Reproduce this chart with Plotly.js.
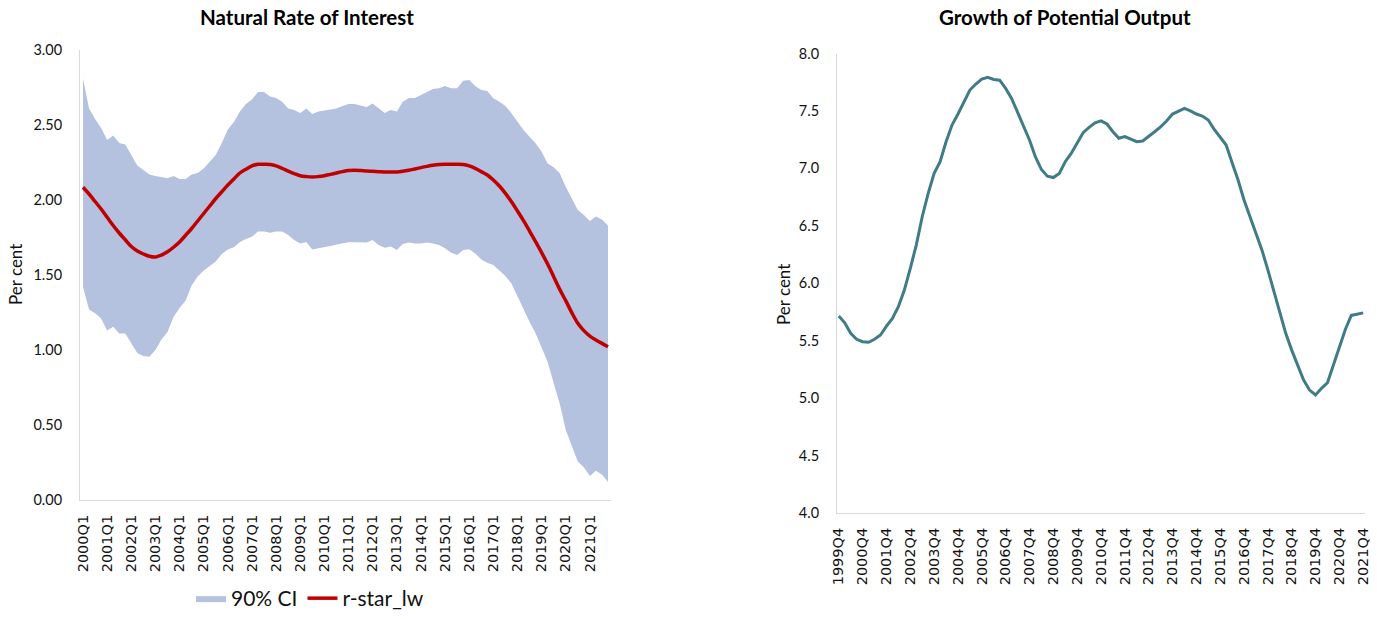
<!DOCTYPE html>
<html>
<head>
<meta charset="utf-8">
<script src="https://cdn.plot.ly/plotly-3.0.1.min.js"></script>
<style>
  html, body { margin: 0; padding: 0; background: #ffffff; }
  #chart { width: 1377px; height: 619px; }
</style>
</head>
<body>
<div id="chart"></div>
<script>
// Quarter labels such as "2000Q1"
function quarterLabels(startYear, startQuarter, count) {
  const out = [];
  let y = startYear, q = startQuarter;
  for (let i = 0; i < count; i++) {
    out.push(y + 'Q' + q);
    q += 1;
    if (q > 4) { q = 1; y += 1; }
  }
  return out;
}

// Natural rate of interest, 2000Q1 - 2021Q4 (per cent)
const rstarQuarters = quarterLabels(2000, 1, 88);
const rstarLw = [
  2.085, 2.04, 1.99, 1.94, 1.885, 1.83, 1.78, 1.735, 1.69, 1.66,
  1.64, 1.625, 1.62, 1.633, 1.655, 1.685, 1.72, 1.765, 1.81, 1.86,
  1.91, 1.96, 2.01, 2.055, 2.10, 2.14, 2.18, 2.205, 2.227, 2.238,
  2.238, 2.236, 2.227, 2.211, 2.193, 2.176, 2.162, 2.156, 2.153, 2.156,
  2.162, 2.171, 2.18, 2.189, 2.196, 2.198, 2.196, 2.193, 2.191, 2.189,
  2.187, 2.187, 2.187, 2.191, 2.198, 2.207, 2.216, 2.224, 2.231, 2.236,
  2.238, 2.238, 2.238, 2.236, 2.227, 2.211, 2.189, 2.167, 2.133, 2.093,
  2.044, 1.989, 1.927, 1.862, 1.793, 1.722, 1.649, 1.573, 1.489, 1.404,
  1.329, 1.249, 1.178, 1.129, 1.093, 1.067, 1.044, 1.022
];
const ciUpper = [
  2.81, 2.61, 2.54, 2.48, 2.40, 2.43, 2.38, 2.37, 2.30, 2.23,
  2.20, 2.17, 2.16, 2.155, 2.145, 2.16, 2.14, 2.14, 2.17, 2.18,
  2.21, 2.255, 2.30, 2.38, 2.47, 2.52, 2.59, 2.64, 2.67, 2.72,
  2.72, 2.69, 2.68, 2.655, 2.61, 2.60, 2.58, 2.61, 2.573, 2.59,
  2.595, 2.60, 2.61, 2.627, 2.64, 2.64, 2.631, 2.62, 2.644, 2.61,
  2.58, 2.60, 2.59, 2.655, 2.68, 2.68, 2.70, 2.72, 2.74, 2.745,
  2.76, 2.745, 2.745, 2.795, 2.80, 2.76, 2.733, 2.727, 2.678, 2.655,
  2.627, 2.578, 2.522, 2.467, 2.422, 2.378, 2.322, 2.244, 2.218, 2.178,
  2.089, 2.01, 1.933, 1.90, 1.86, 1.89, 1.87, 1.83
];
const ciLower = [
  1.42, 1.27, 1.245, 1.21, 1.13, 1.155, 1.11, 1.11, 1.045, 0.98,
  0.96, 0.955, 1.00, 1.07, 1.12, 1.22, 1.28, 1.33, 1.43, 1.49,
  1.53, 1.56, 1.59, 1.64, 1.67, 1.685, 1.72, 1.74, 1.755, 1.79,
  1.79, 1.782, 1.79, 1.79, 1.767, 1.733, 1.71, 1.72, 1.67, 1.678,
  1.684, 1.693, 1.704, 1.71, 1.718, 1.718, 1.716, 1.716, 1.733, 1.70,
  1.682, 1.69, 1.667, 1.707, 1.716, 1.71, 1.71, 1.716, 1.71, 1.70,
  1.678, 1.649, 1.633, 1.667, 1.671, 1.644, 1.604, 1.582, 1.567, 1.533,
  1.493, 1.444, 1.356, 1.267, 1.189, 1.111, 1.022, 0.922, 0.778, 0.644,
  0.467, 0.356, 0.256, 0.218, 0.16, 0.195, 0.17, 0.12
];
const rstarTickVals = [0, 0.5, 1, 1.5, 2, 2.5, 3];

// Growth of potential output, 1999Q4 - 2021Q4 (per cent)
const potentialQuarters = quarterLabels(1999, 4, 89);
const potentialGrowth = [
  5.714, 5.656, 5.564, 5.512, 5.491, 5.486, 5.512, 5.549, 5.627, 5.694,
  5.796, 5.941, 6.13, 6.332, 6.579, 6.782, 6.956, 7.058, 7.232, 7.377,
  7.473, 7.58, 7.682, 7.734, 7.777, 7.792, 7.774, 7.768, 7.696, 7.609,
  7.484, 7.368, 7.247, 7.10, 6.99, 6.932, 6.92, 6.956, 7.058, 7.13,
  7.218, 7.31, 7.357, 7.397, 7.414, 7.386, 7.319, 7.262, 7.276, 7.253,
  7.232, 7.238, 7.276, 7.319, 7.362, 7.412, 7.473, 7.499, 7.522, 7.501,
  7.473, 7.456, 7.421, 7.339, 7.27, 7.203, 7.049, 6.899, 6.725, 6.579,
  6.449, 6.29, 6.117, 5.935, 5.753, 5.564, 5.418, 5.288, 5.157, 5.07,
  5.027, 5.085, 5.134, 5.288, 5.447, 5.598, 5.72, 5.731, 5.742
];
const potentialTickVals = [4, 4.5, 5, 5.5, 6, 6.5, 7, 7.5, 8];

// Yearly category ticks
const rstarTickLabels = rstarQuarters.filter((q, i) => i % 4 === 0);
const potentialTickLabels = potentialQuarters.filter((q, i) => i % 4 === 0);

const FONT = 'Lato, "Open Sans", sans-serif';
const TICK_FONT = '"DejaVu Sans", Lato, sans-serif';
const W = 1377, H = 619;
const px = v => v / W;
const py = v => (H - v) / H;

const traces = [
  {
    x: rstarQuarters, y: ciLower, xaxis: 'x', yaxis: 'y',
    type: 'scatter', mode: 'lines', line: { width: 0, color: 'rgba(0,0,0,0)' },
    showlegend: false, hoverinfo: 'skip'
  },
  {
    x: rstarQuarters, y: ciUpper, xaxis: 'x', yaxis: 'y',
    type: 'scatter', mode: 'lines', name: '90% CI',
    line: { width: 0, color: '#b4c1df' },
    fill: 'tonexty', fillcolor: '#b4c1df'
  },
  {
    x: rstarQuarters, y: rstarLw, xaxis: 'x', yaxis: 'y',
    type: 'scatter', mode: 'lines', name: 'r-star_lw',
    line: { width: 3.5, color: '#c00000', shape: 'spline', smoothing: 1 }
  },
  {
    x: potentialQuarters, y: potentialGrowth, xaxis: 'x2', yaxis: 'y2',
    type: 'scatter', mode: 'lines', name: 'Potential output growth',
    line: { width: 3, color: '#3f7c85' }, showlegend: false
  }
];

const xCommon = {
  type: 'category', showline: true, linecolor: '#d9d9d9', linewidth: 1,
  showgrid: false, zeroline: false, ticks: '', tickangle: -90,
  tickfont: { family: TICK_FONT, size: 14.5, color: '#111' }, ticklabelstandoff: 8,
  automargin: false, fixedrange: true
};
const yCommon = {
  showline: true, linecolor: '#d9d9d9', linewidth: 1,
  showgrid: false, zeroline: false, ticks: '',
  tickfont: { family: FONT, size: 14.5, color: '#111' }, ticklabelstandoff: 14,
  automargin: false, fixedrange: true
};

const layout = {
  width: W, height: H,
  margin: { l: 0, r: 0, t: 0, b: 0 },
  paper_bgcolor: '#ffffff', plot_bgcolor: '#ffffff',
  font: { family: FONT, color: '#111' },
  xaxis: Object.assign({}, xCommon, {
    domain: [px(80), px(611)], anchor: 'y',
    range: [-0.5, 87.5], tickmode: 'array', tickvals: rstarTickLabels, ticktext: rstarTickLabels
  }),
  yaxis: Object.assign({}, yCommon, {
    domain: [py(500), py(50)], anchor: 'x',
    range: [0, 3], tickmode: 'array', tickvals: rstarTickVals, tickformat: '.2f'
  }),
  xaxis2: Object.assign({}, xCommon, {
    domain: [px(837), px(1365)], anchor: 'y2',
    range: [-0.3, 88.3], tickmode: 'array', tickvals: potentialTickLabels, ticktext: potentialTickLabels
  }),
  yaxis2: Object.assign({}, yCommon, {
    domain: [py(513), py(53.5)], anchor: 'x2',
    range: [4, 8], tickmode: 'array', tickvals: potentialTickVals, tickformat: '.1f'
  }),
  showlegend: true,
  legend: {
    orientation: 'h', traceorder: 'normal',
    x: px(310), xanchor: 'center', y: 0, yanchor: 'bottom',
    font: { family: FONT, size: 21, color: '#111' }, itemwidth: 30,
    bgcolor: 'rgba(0,0,0,0)'
  },
  annotations: [
    {
      text: 'Natural Rate of Interest', xref: 'paper', yref: 'paper',
      x: px(307), y: py(17), xanchor: 'center', yanchor: 'middle', showarrow: false,
      font: { family: FONT, size: 20.5, weight: 700, color: '#000' }
    },
    {
      text: 'Growth of Potential Output', xref: 'paper', yref: 'paper',
      x: px(1065), y: py(17), xanchor: 'center', yanchor: 'middle', showarrow: false,
      font: { family: FONT, size: 20.5, weight: 700, color: '#000' }
    },
    {
      text: 'Per cent', xref: 'paper', yref: 'paper', textangle: -90,
      x: px(15), y: py(275), xanchor: 'center', yanchor: 'middle', showarrow: false,
      font: { family: FONT, size: 17, color: '#111' }
    },
    {
      text: 'Per cent', xref: 'paper', yref: 'paper', textangle: -90,
      x: px(783), y: py(295), xanchor: 'center', yanchor: 'middle', showarrow: false,
      font: { family: FONT, size: 17, color: '#111' }
    }
  ]
};

Plotly.newPlot('chart', traces, layout, { displayModeBar: false, staticPlot: true });
</script>
</body>
</html>
